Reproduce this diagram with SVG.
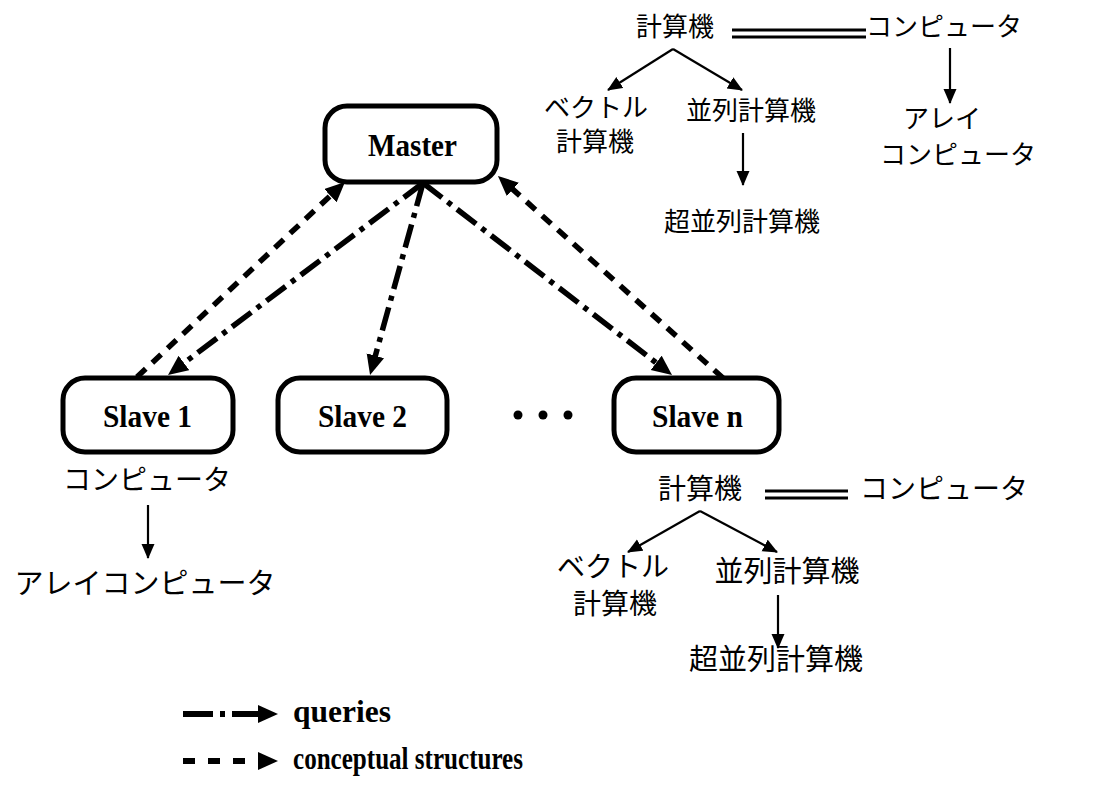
<svg xmlns="http://www.w3.org/2000/svg" width="1096" height="786" viewBox="0 0 1096 786">
<style>
.box{fill:#fff;stroke:#000;stroke-width:5}
.lbl{font-family:"Liberation Serif","Times New Roman",serif;font-weight:bold;font-size:31px;fill:#000}
.jp{font-family:"Noto Sans CJK JP","Noto Sans",sans-serif;font-size:26px;fill:#000}
.jpb{font-family:"Noto Sans CJK JP","Noto Sans",sans-serif;font-size:28px;fill:#000}
.q{fill:none;stroke:#000;stroke-width:5.5;stroke-dasharray:24 7 5 7;marker-end:url(#big)}
.c{fill:none;stroke:#000;stroke-width:5.5;stroke-dasharray:12 9;marker-end:url(#big)}
.thin{fill:none;stroke:#000;stroke-width:2.2;marker-end:url(#small)}
.dbl{stroke:#000;stroke-width:3}
</style>
<defs>
<marker id="big" markerUnits="userSpaceOnUse" markerWidth="22" markerHeight="20" refX="10" refY="9" orient="auto">
<path d="M0,0 L20,9 L0,18 z" fill="#000"/>
</marker>
<marker id="small" markerUnits="userSpaceOnUse" markerWidth="17" markerHeight="14" refX="14" refY="6.5" orient="auto">
<path d="M0,0 L15,6.5 L0,13 z" fill="#000"/>
</marker>
</defs>
<rect width="1096" height="786" fill="#fff"/>

<g id="connectors">
<line class="q" x1="423" y1="183" x2="176" y2="369"/>
<line class="q" x1="423" y1="183" x2="372.7" y2="365.4"/>
<line class="q" x1="423" y1="183" x2="664.1" y2="368.9"/>
<line class="c" x1="137" y1="377" x2="337.7" y2="188.8"/>
<line class="c" x1="723" y1="378" x2="505.4" y2="182.7"/>
</g>

<g id="master"><rect class="box" x="325" y="106" width="172" height="76" rx="22"/><text class="lbl" x="368" y="156" textLength="89" lengthAdjust="spacingAndGlyphs">Master</text></g>
<g id="slave1"><rect class="box" x="63" y="378" width="170" height="74" rx="22"/><text class="lbl" x="103" y="427" textLength="89" lengthAdjust="spacingAndGlyphs">Slave 1</text></g>
<g id="slave2"><rect class="box" x="278" y="378" width="169" height="74" rx="22"/><text class="lbl" x="318" y="427" textLength="89" lengthAdjust="spacingAndGlyphs">Slave 2</text></g>
<g id="slaven"><rect class="box" x="614" y="378" width="165" height="74" rx="22"/><text class="lbl" x="652" y="427" textLength="91" lengthAdjust="spacingAndGlyphs">Slave n</text></g>
<g id="dots"><circle cx="518" cy="415" r="4.5"/><circle cx="543" cy="415" r="4.5"/><circle cx="568" cy="415" r="4.5"/></g>

<g id="master-concepts">
<text class="jp" x="675" y="36" text-anchor="middle">計算機</text>
<line class="dbl" x1="732" y1="30" x2="866" y2="30"/>
<line class="dbl" x1="732" y1="37" x2="866" y2="37"/>
<text class="jp" x="866" y="36">コンピュータ</text>
<line class="thin" x1="673" y1="49" x2="608" y2="90"/>
<line class="thin" x1="673" y1="49" x2="742" y2="90"/>
<text class="jp" x="596" y="117" text-anchor="middle">ベクトル</text>
<text class="jp" x="595" y="151" text-anchor="middle">計算機</text>
<text class="jp" x="751" y="120" text-anchor="middle">並列計算機</text>
<line class="thin" x1="743" y1="133" x2="743" y2="185"/>
<text class="jp" x="742" y="231" text-anchor="middle">超並列計算機</text>
<line class="thin" x1="950" y1="48" x2="950" y2="103"/>
<text class="jp" x="942" y="128" text-anchor="middle">アレイ</text>
<text class="jp" x="958" y="164" text-anchor="middle">コンピュータ</text>
</g>

<g id="slave1-concepts">
<text class="jpb" x="147" y="490" text-anchor="middle">コンピュータ</text>
<line class="thin" x1="148" y1="505" x2="148" y2="558"/>
<text class="jpb" x="145" y="594" text-anchor="middle" style="font-size:29px">アレイコンピュータ</text>
</g>

<g id="slaven-concepts">
<text class="jpb" x="700" y="499" text-anchor="middle">計算機</text>
<line class="dbl" x1="765" y1="491" x2="848" y2="491"/>
<line class="dbl" x1="765" y1="498" x2="848" y2="498"/>
<text class="jpb" x="944" y="499" text-anchor="middle">コンピュータ</text>
<line class="thin" x1="700" y1="511" x2="628" y2="552"/>
<line class="thin" x1="700" y1="511" x2="777" y2="552"/>
<text class="jpb" x="613" y="577" text-anchor="middle">ベクトル</text>
<text class="jpb" x="615" y="614" text-anchor="middle">計算機</text>
<text class="jpb" x="787" y="582" text-anchor="middle" style="font-size:29px">並列計算機</text>
<line class="thin" x1="778" y1="595" x2="778" y2="648"/>
<text class="jpb" x="776" y="670" text-anchor="middle" style="font-size:29px">超並列計算機</text>
</g>

<g id="legend">
<line x1="183" y1="714" x2="268" y2="714" stroke="#000" stroke-width="6" stroke-dasharray="30 7 5 7" marker-end="url(#big)"/>
<text class="lbl" x="293" y="722" textLength="98" lengthAdjust="spacingAndGlyphs">queries</text>
<line x1="183" y1="761" x2="268" y2="761" stroke="#000" stroke-width="6" stroke-dasharray="12 13" marker-end="url(#big)"/>
<text class="lbl" x="293" y="769" textLength="230" lengthAdjust="spacingAndGlyphs">conceptual structures</text>
</g>
</svg>
